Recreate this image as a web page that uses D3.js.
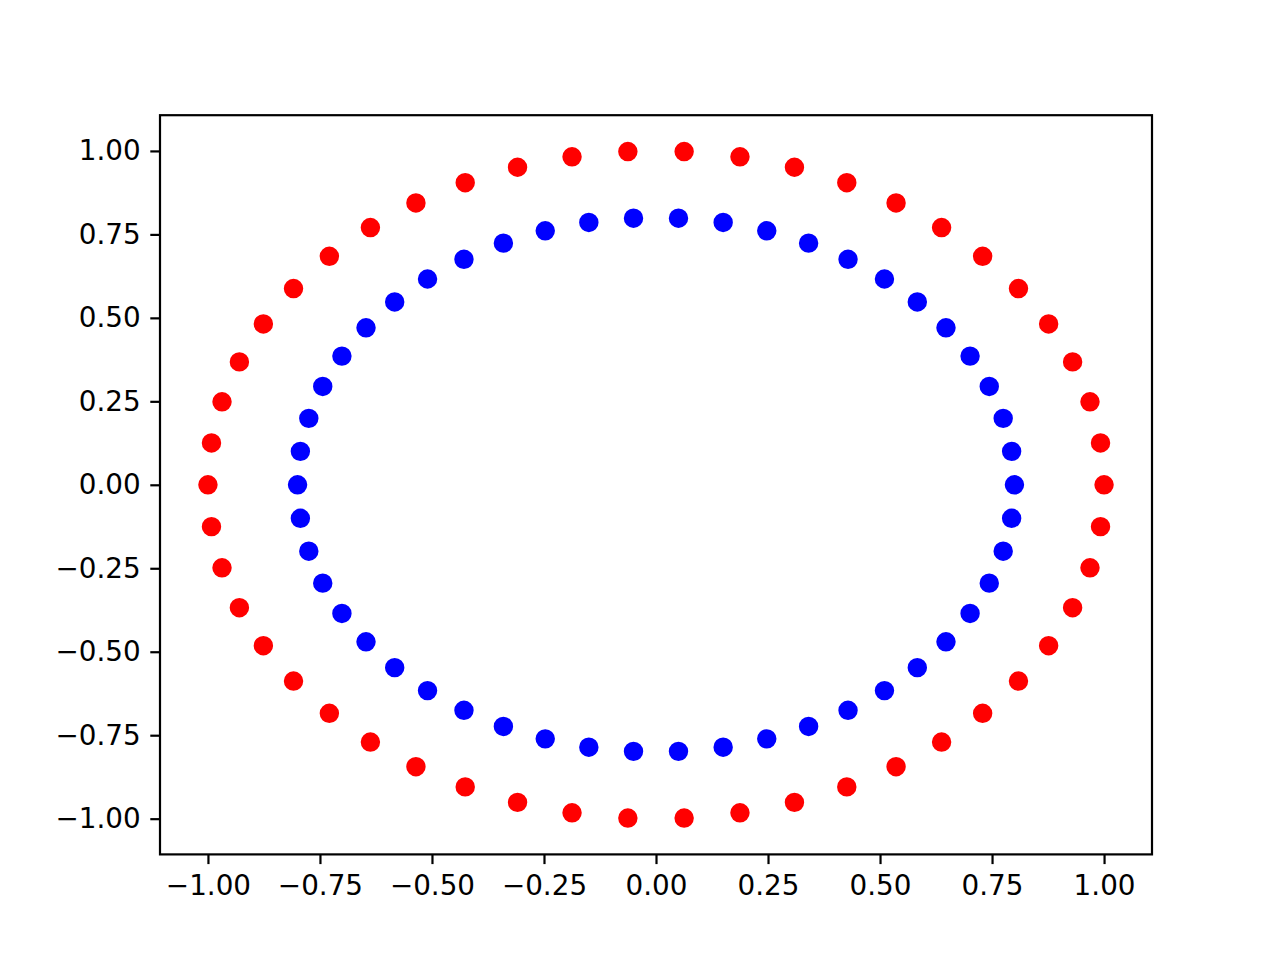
<!DOCTYPE html>
<meta charset="utf-8">
<title>circles</title>
<style>
body { margin: 0; background: #fff; }
text { font-family: "DejaVu Sans", sans-serif; }
</style>
<svg width="1280" height="960"></svg>
<script src="https://cdn.jsdelivr.net/npm/d3@7/dist/d3.min.js"></script>
<script>

// outer ring (red)
var outerX = [1.0000, 0.9921, 0.9686, 0.9298, 0.8763, 0.8090, 0.7290, 0.6374, 0.5358, 0.4258,
  0.3090, 0.1874, 0.0628, -0.0628, -0.1874, -0.3090, -0.4258, -0.5358, -0.6374, -0.7290,
  -0.8090, -0.8763, -0.9298, -0.9686, -0.9921, -1.0000, -0.9921, -0.9686, -0.9298, -0.8763,
  -0.8090, -0.7290, -0.6374, -0.5358, -0.4258, -0.3090, -0.1874, -0.0628, 0.0628, 0.1874,
  0.3090, 0.4258, 0.5358, 0.6374, 0.7290, 0.8090, 0.8763, 0.9298, 0.9686, 0.9921];
var outerY = [0.0000, 0.1253, 0.2487, 0.3681, 0.4818, 0.5878, 0.6845, 0.7705, 0.8443, 0.9048,
  0.9511, 0.9823, 0.9980, 0.9980, 0.9823, 0.9511, 0.9048, 0.8443, 0.7705, 0.6845,
  0.5878, 0.4818, 0.3681, 0.2487, 0.1253, 0.0000, -0.1253, -0.2487, -0.3681, -0.4818,
  -0.5878, -0.6845, -0.7705, -0.8443, -0.9048, -0.9511, -0.9823, -0.9980, -0.9980, -0.9823,
  -0.9511, -0.9048, -0.8443, -0.7705, -0.6845, -0.5878, -0.4818, -0.3681, -0.2487, -0.1253];

// inner ring (blue)
var innerX = [0.8000, 0.7937, 0.7749, 0.7438, 0.7010, 0.6472, 0.5832, 0.5099, 0.4286, 0.3406,
  0.2472, 0.1499, 0.0502, -0.0502, -0.1499, -0.2472, -0.3406, -0.4286, -0.5099, -0.5832,
  -0.6472, -0.7010, -0.7438, -0.7749, -0.7937, -0.8000, -0.7937, -0.7749, -0.7438, -0.7010,
  -0.6472, -0.5832, -0.5099, -0.4286, -0.3406, -0.2472, -0.1499, -0.0502, 0.0502, 0.1499,
  0.2472, 0.3406, 0.4286, 0.5099, 0.5832, 0.6472, 0.7010, 0.7438, 0.7749, 0.7937];
var innerY = [0.0000, 0.1002, 0.1990, 0.2945, 0.3854, 0.4702, 0.5476, 0.6164, 0.6754, 0.7238,
  0.7609, 0.7858, 0.7984, 0.7984, 0.7858, 0.7609, 0.7238, 0.6754, 0.6164, 0.5476,
  0.4702, 0.3854, 0.2945, 0.1990, 0.1002, 0.0000, -0.1002, -0.1990, -0.2945, -0.3854,
  -0.4702, -0.5476, -0.6164, -0.6754, -0.7238, -0.7609, -0.7858, -0.7984, -0.7984, -0.7858,
  -0.7609, -0.7238, -0.6754, -0.6164, -0.5476, -0.4702, -0.3854, -0.2945, -0.1990, -0.1002];

var xTicks = [-1.00, -0.75, -0.50, -0.25, 0.00, 0.25, 0.50, 0.75, 1.00];
var yTicks = [-1.00, -0.75, -0.50, -0.25, 0.00, 0.25, 0.50, 0.75, 1.00];

var svg = d3.select("svg"),
    plotLeft = 160, plotRight = 1152, plotTop = 115.2, plotBottom = 854.4,
    lim = 1.107;

var x = d3.scaleLinear().domain([-lim, lim]).range([plotLeft, plotRight]);
var y = d3.scaleLinear().domain([-lim, lim]).range([plotBottom, plotTop]);

var fmt = function (d) { return d3.format(".2f")(d).replace("-", "\u2212"); };

function drawRing(xs, ys, color) {
  svg.append("g")
    .selectAll("circle")
      .data(d3.range(xs.length))
    .enter().append("circle")
      .attr("cx", function (i) { return x(xs[i]); })
      .attr("cy", function (i) { return y(ys[i]); })
      .attr("r", 8.33)
      .style("fill", color)
      .style("stroke", color)
      .style("stroke-width", 2.78);
}

drawRing(outerX, outerY, "#ff0000");
drawRing(innerX, innerY, "#0000ff");

var xAxis = svg.append("g")
    .attr("transform", "translate(0," + plotBottom + ")")
    .call(d3.axisBottom(x).tickValues(xTicks).tickFormat(fmt).tickSizeOuter(0).tickSize(9.7).tickPadding(11.5));

var yAxis = svg.append("g")
    .attr("transform", "translate(" + plotLeft + ",0)")
    .call(d3.axisLeft(y).tickValues(yTicks).tickFormat(fmt).tickSizeOuter(0).tickSize(9.7).tickPadding(9.7));

[xAxis, yAxis].forEach(function (a) {
  a.select(".domain").remove();
  a.selectAll(".tick line").attr("stroke", "#000").attr("stroke-width", 2.2);
  a.selectAll(".tick text")
    .attr("fill", "#000")
    .style("font-size", "27.8px")
    .style("font-family", "'DejaVu Sans', sans-serif");
});

svg.append("rect")
    .attr("x", plotLeft).attr("y", plotTop)
    .attr("width", plotRight - plotLeft).attr("height", plotBottom - plotTop)
    .style("fill", "none")
    .style("stroke", "#000")
    .style("stroke-width", 2.2);

</script>
